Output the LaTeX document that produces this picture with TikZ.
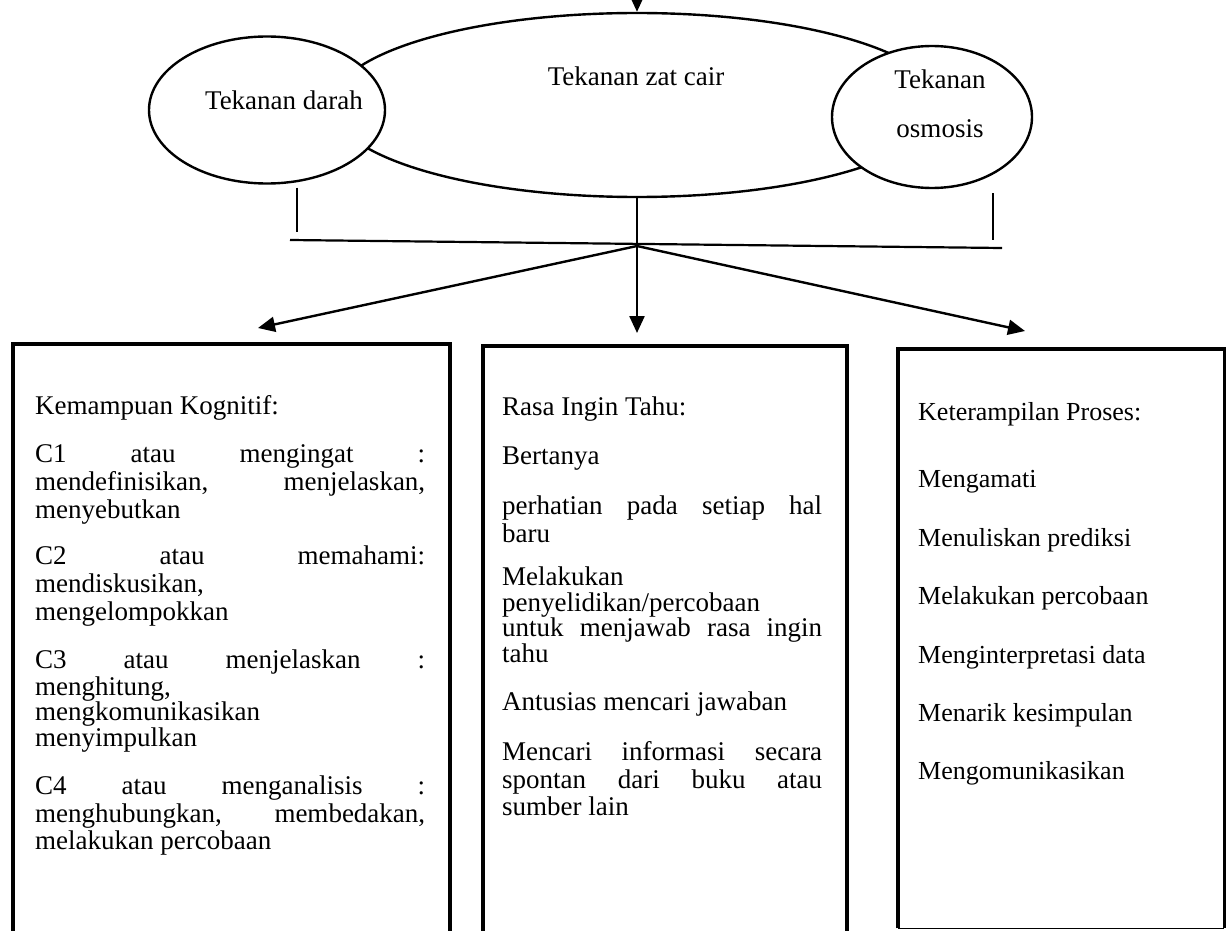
\documentclass[tikz,border=0pt]{standalone}
\usepackage{fontspec}
\setmainfont{Liberation Serif}
\usetikzlibrary{shapes.geometric,arrows.meta}
\newcommand{\jline}[2]{\makebox[#1][s]{#2}}
\begin{document}
\begin{tikzpicture}[x=1pt,y=-1pt,
  txt/.style={inner sep=0pt, font=\fontsize{27}{28}\selectfont},
  ln/.style={txt, anchor=base west},
  lns/.style={ln, font=\fontsize{26}{28}\selectfont},
  ell/.style={ellipse, draw, line width=2.4pt, fill=white, inner sep=0pt},
  box/.style={draw, line width=3.6pt, inner sep=0pt, anchor=north west},
  arr/.style={line width=2.4pt, -{Triangle[length=17pt,width=15pt]}},
  conn/.style={line width=1.3pt}]
\useasboundingbox (0,0) rectangle (1227,931);
% ellipses
\node[ell, minimum width=610pt, minimum height=184pt] (zc) at (637,105) {};
\node[ell, minimum width=236pt, minimum height=147pt] (td) at (267,110) {};
\node[ell, minimum width=200pt, minimum height=142pt] (to) at (932,117) {};
\node[txt] (zct) at (636,76) {Tekanan zat cair};
\node[txt] (tdt) at (284,100) {Tekanan darah};
\node[txt, align=center, font=\fontsize{27}{49}\selectfont] (tot) at (940,104) {Tekanan\\osmosis};
% top arrow
\coordinate (top) at (637,-6);
\draw[arr] (top) -- (zc.north);
% connectors
\coordinate (hl) at (290,240);
\coordinate (hr) at (1002,248);
\coordinate (hub) at (637,246);
\coordinate (vl) at (297,232);
\coordinate (vr) at (993,240);
\draw[line width=2.2pt] (hl) -- (hr);
\draw[line width=2pt] (td.south -| vl) ++(0,3) -- (vl);
\draw[conn] (zc.south) -- (hub);
\draw[conn] (to.south -| vr) ++(0,4) -- (vr);
% boxes
\node[box, minimum width=437pt, minimum height=620pt] (kog) at (11,342) {};
\node[box, minimum width=364pt, minimum height=620pt] (rit) at (481,344) {};
\node[inner sep=0pt, anchor=north west, minimum width=326pt, minimum height=579pt] (kps) at (898,349) {};
\draw[line width=3.6pt] (kps.south west) -- (kps.north west) -- (kps.north east) -- (kps.south east);
\draw[line width=1.2pt] (kps.south west) -- (kps.south east);
\coordinate (aL) at (258,328);
\coordinate (aM) at (637,333);
\coordinate (aR) at (1025,331);
\draw[arr] (hub) -- (aL);
\draw[arr] (hub) -- (aM);
\draw[arr] (hub) -- (aR);
% left box text
\node[ln] (k0) at (35,414) {Kemampuan Kognitif:};
\node[ln] (k1) at (35,462) {\jline{390pt}{C1 atau mengingat :}};
\node[ln] (k2) at (35,490) {\jline{390pt}{mendefinisikan, menjelaskan,}};
\node[ln] (k3) at (35,518) {menyebutkan};
\node[ln] (k4) at (35,564) {\jline{390pt}{C2 atau memahami:}};
\node[ln] (k5) at (35,592) {mendiskusikan,};
\node[ln] (k6) at (35,620) {mengelompokkan};
\node[ln] (k7) at (35,668) {\jline{390pt}{C3 atau menjelaskan :}};
\node[ln] (k8) at (35,695) {menghitung,};
\node[ln] (k9) at (35,720) {mengkomunikasikan};
\node[ln] (k10) at (35,746) {menyimpulkan};
\node[ln] (k11) at (35,794) {\jline{390pt}{C4 atau menganalisis :}};
\node[ln] (k12) at (35,822) {\jline{390pt}{menghubungkan, membedakan,}};
\node[ln] (k13) at (35,849) {melakukan percobaan};
% middle box text
\node[ln] (r0) at (502,415) {Rasa Ingin Tahu:};
\node[ln] (r1) at (502,464) {Bertanya};
\node[ln] (r2) at (502,514) {\jline{320pt}{perhatian pada setiap hal}};
\node[ln] (r3) at (502,542) {baru};
\node[ln] (r4) at (502,585) {Melakukan};
\node[ln] (r5) at (502,611) {penyelidikan/percobaan};
\node[ln] (r6) at (502,636) {\jline{320pt}{untuk menjawab rasa ingin}};
\node[ln] (r7) at (502,662) {tahu};
\node[ln] (r8) at (502,710) {Antusias mencari jawaban};
\node[ln] (r9) at (502,760) {\jline{320pt}{Mencari informasi secara}};
\node[ln] (r10) at (502,788) {\jline{320pt}{spontan dari buku atau}};
\node[ln] (r11) at (502,815) {sumber lain};
% right box text
\node[lns] (p0) at (918,420) {Keterampilan Proses:};
\node[lns] (p1) at (918,487) {Mengamati};
\node[lns] (p2) at (918,546) {Menuliskan prediksi};
\node[lns] (p3) at (918,604) {Melakukan percobaan};
\node[lns] (p4) at (918,663) {Menginterpretasi data};
\node[lns] (p5) at (918,721) {Menarik kesimpulan};
\node[lns] (p6) at (918,779) {Mengomunikasikan};
\end{tikzpicture}
\end{document}
